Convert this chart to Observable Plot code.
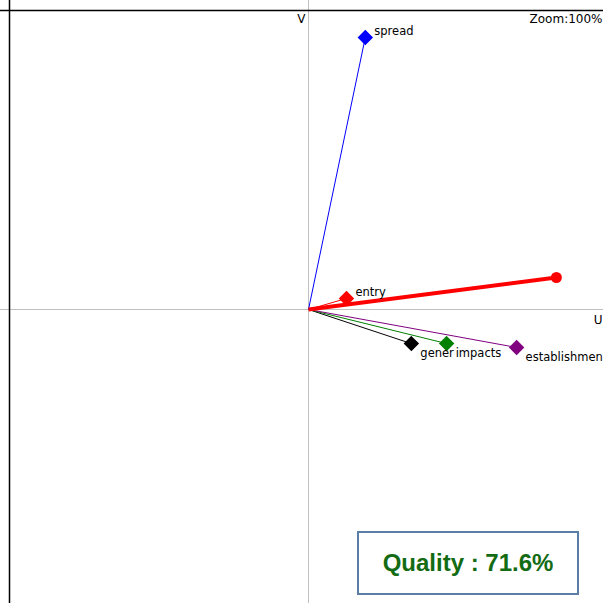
<!DOCTYPE html>
<html>
<head>
<meta charset="utf-8">
<script src="https://cdn.jsdelivr.net/npm/d3@7"></script>
<script src="https://cdn.jsdelivr.net/npm/@observablehq/plot@0.6"></script>
<style>
  html, body { margin: 0; padding: 0; background: #fff; }
  #wrap { position: relative; width: 603px; height: 603px; overflow: hidden; }
  #quality {
    position: absolute; left: 357px; top: 531px; width: 218px; height: 60px;
    border: 2px solid #5a7ea6; background: #fff; box-sizing: content-box;
    display: flex; align-items: center; justify-content: center;
    font-family: "Liberation Sans", Arial, sans-serif; font-weight: bold;
    font-size: 24px; color: #136b13;
  }
</style>
</head>
<body>
<div id="wrap"></div>
<script>
// Variables (projected onto U, V)
const names   = ["spread", "entry", "gener", "impacts", "establishmen"];
const uValues = [0.190, 0.127, 0.344, 0.462, 0.696];
const vValues = [0.910, 0.037, -0.114, -0.114, -0.127];
const colors  = ["#0000ff", "#ff0000", "#000000", "#008000", "#800080"];

// Supplementary (thick red) vector
const suppU = [0.829];
const suppV = [0.107];

const qualityLabel = "Quality : 71.6%";
const zoomLabel = "Zoom:100%";

const vars = names.map((n, i) => ({name: n, u: uValues[i], v: vValues[i], color: colors[i]}));
const supp = suppU.map((u, i) => ({u, v: suppV[i]}));

const font = "DejaVu Sans, Verdana, sans-serif";

const chart = Plot.plot({
  width: 603,
  height: 603,
  margin: 0,
  style: {fontFamily: font, fontSize: "12px", background: "#fff"},
  x: {domain: [-1, 1], range: [9, 607], axis: null},
  y: {domain: [-1, 1], range: [608, 10], axis: null},
  marks: [
    Plot.ruleX([0], {stroke: "#c0c0c0", strokeWidth: 1}),
    Plot.ruleY([0], {stroke: "#c0c0c0", strokeWidth: 1}),
    Plot.ruleX([-1], {stroke: "#000", strokeWidth: 1.5}),
    Plot.ruleY([1], {stroke: "#000", strokeWidth: 1.5}),
    Plot.link(vars, {x1: 0, y1: 0, x2: "u", y2: "v", stroke: "color", strokeWidth: 1}),
    Plot.link(supp, {x1: 0, y1: 0, x2: "u", y2: "v", stroke: "#ff0000", strokeWidth: 4}),
    Plot.dot(supp, {x: "u", y: "v", r: 5.5, fill: "#ff0000"}),
    Plot.dot(vars, {x: "u", y: "v", symbol: "diamond2", r: 6, fill: "color", stroke: "color"}),
    Plot.text(vars.filter(d => d.v > 0), {x: "u", y: "v", text: "name", textAnchor: "start", dx: 9, dy: -6, fill: "#000", fontSize: 11.5}),
    Plot.text(vars.filter(d => d.v < 0), {x: "u", y: "v", text: "name", textAnchor: "start", dx: 9, dy: 10, fill: "#000", fontSize: 11.5}),
    Plot.text([zoomLabel], {frameAnchor: "top-right", text: d => d, dx: -1, dy: 14, fill: "#000", fontSize: 12}),
    Plot.text(["V"], {x: 0, frameAnchor: "top", text: d => d, textAnchor: "end", dx: -3, dy: 14, fill: "#000", fontSize: 12}),
    Plot.text(["U"], {y: 0, frameAnchor: "right", text: d => d, textAnchor: "end", dx: -1, dy: 11, fill: "#000", fontSize: 12})
  ]
});

const wrap = document.getElementById("wrap");
wrap.appendChild(chart);
const q = document.createElement("div");
q.id = "quality";
q.textContent = qualityLabel;
wrap.appendChild(q);
</script>
</body>
</html>
